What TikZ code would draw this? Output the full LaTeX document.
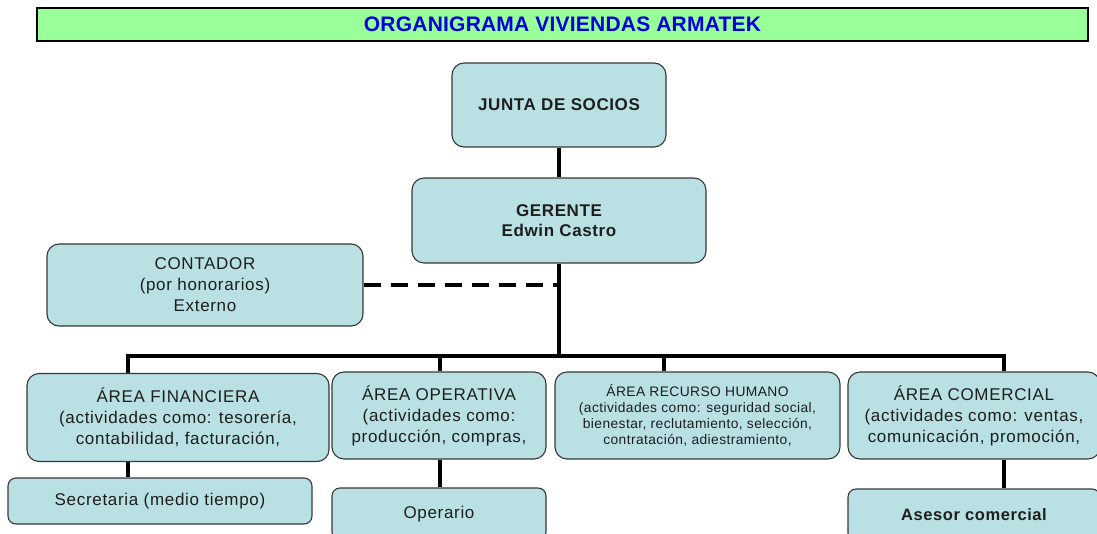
\documentclass[tikz,border=0pt]{standalone}
\usepackage{fontspec}
\setmainfont{Liberation Sans}
\newfontfamily\boxfam[LetterSpace=4]{Liberation Sans}
\newfontfamily\boldfam[LetterSpace=3.5]{Liberation Sans}
\newfontfamily\smallfam[LetterSpace=3]{Liberation Sans}
\newfontfamily\titlefam[LetterSpace=1]{Liberation Sans}
\usetikzlibrary{backgrounds}
\definecolor{boxfill}{RGB}{185,224,227}
\definecolor{boxline}{RGB}{55,55,55}
\definecolor{txt}{RGB}{30,30,30}
\definecolor{titlegreen}{RGB}{153,255,153}
\definecolor{titleblue}{RGB}{0,0,220}
\begin{document}
\begin{tikzpicture}[x=1pt,y=-1pt,
  box/.style={draw=boxline, fill=boxfill, line width=1.1pt, rounded corners=12pt,
    inner sep=0pt, align=center, text=txt, font=\boxfam\fontsize{17}{21}\selectfont},
  smallbox/.style={box, rounded corners=8pt},
  boldbox/.style={box, font=\boldfam\bfseries\fontsize{17}{20}\selectfont},
  conn/.style={line width=3.6pt, draw=black},
  dashconn/.style={conn, dash pattern=on 17pt off 10pt}]
\useasboundingbox (0,0) rectangle (1097,533);
\begin{scope}
\clip (0,0) rectangle (1097,533);
% title
\node[draw=black, line width=1.3pt, fill=titlegreen, minimum width=1051pt, minimum height=33pt,
  inner sep=0pt, font=\titlefam\bfseries\fontsize{21}{24}\selectfont, text=titleblue] (title) at (562.5,24.5)
  {ORGANIGRAMA VIVIENDAS ARMATEK};
% boxes
\node[boldbox, minimum width=214pt, minimum height=84pt] (junta) at (559,105) {JUNTA DE SOCIOS};
\node[boldbox, minimum width=294pt, minimum height=85pt] (ger) at (559,220.5) {GERENTE\\Edwin Castro};
\node[box, minimum width=316pt, minimum height=82pt] (cont) at (205,285) {CONTADOR\\(por honorarios)\\Externo};
\node[box, minimum width=302pt, minimum height=88pt] (fin) at (178,417.5)
  {ÁREA FINANCIERA\\(actividades como: tesorería,\\contabilidad, facturación,};
\node[box, minimum width=214pt, minimum height=87pt] (ope) at (439,415.5)
  {ÁREA OPERATIVA\\(actividades como:\\producción, compras,};
\node[box, minimum width=285pt, minimum height=87pt, font=\smallfam\fontsize{13.8}{15.8}\selectfont] (rh) at (697.5,415.5)
  {ÁREA RECURSO HUMANO\\(actividades como: seguridad social,\\bienestar, reclutamiento, selección,\\contratación, adiestramiento,};
\node[box, minimum width=252pt, minimum height=87pt] (com) at (974,415.5)
  {ÁREA COMERCIAL\\(actividades como: ventas,\\comunicación, promoción,};
\node[smallbox, minimum width=304pt, minimum height=46pt] (sec) at (160,501) {Secretaria (medio tiempo)};
\node[smallbox, minimum width=214pt, minimum height=52pt] (opr) at (439,514) {Operario};
\node[smallbox, minimum width=252pt, minimum height=52pt, font=\boldfam\bfseries\fontsize{16.5}{20}\selectfont] (ase) at (974,515) {Asesor comercial};
% connectors
\coordinate (b1) at (128,356);
\coordinate (b2) at (440,356);
\coordinate (b3) at (664,356);
\coordinate (b4) at (1004,356);
\coordinate (bc) at (559,356);
\begin{pgfonlayer}{background}
\draw[conn] (junta.south) -- (ger.north);
\draw[conn] (ger.south) -- (bc);
\draw[conn] (fin.north -| b1) -- (b1) -- (b4) -- (com.north -| b4);
\draw[conn] (b2) -- (ope.north -| b2);
\draw[conn] (b3) -- (rh.north -| b3);
\draw[conn] (fin.south -| b1) -- (sec.north -| b1);
\draw[conn] (ope.south -| b2) -- (opr.north -| b2);
\draw[conn] (com.south -| b4) -- (ase.north -| b4);
\draw[dashconn] (cont.east) -- (cont.east -| ger.south);
\end{pgfonlayer}
\end{scope}
\end{tikzpicture}
\end{document}
